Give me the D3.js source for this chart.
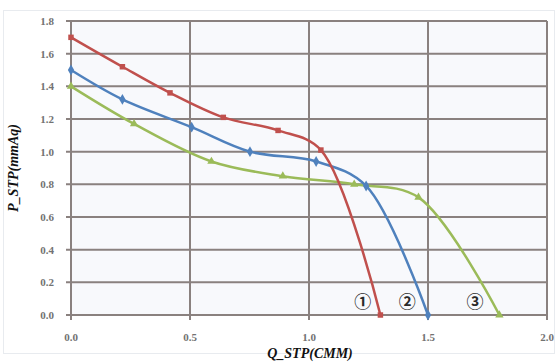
<!DOCTYPE html>
<html><head><meta charset="utf-8">
<script src="https://cdn.jsdelivr.net/npm/d3@7"></script>
<style>body{margin:0;background:#fff}svg{display:block}</style>
</head><body>
<svg id="c" width="559" height="363"></svg>
<script>
const xTicks = [0.0, 0.5, 1.0, 1.5, 2.0];
const yTicks = [0.0, 0.2, 0.4, 0.6, 0.8, 1.0, 1.2, 1.4, 1.6, 1.8];
const seriesNames = ["①", "②", "③"];
const redQ = [0, 0.216, 0.416, 0.64, 0.87, 1.05, 1.30];
const redP = [1.70, 1.52, 1.36, 1.21, 1.13, 1.01, 0.0];
const blueQ = [0, 0.216, 0.507, 0.752, 1.03, 1.24, 1.50];
const blueP = [1.50, 1.32, 1.15, 1.00, 0.94, 0.79, 0.0];
const greenQ = [0, 0.265, 0.59, 0.89, 1.19, 1.46, 1.80];
const greenP = [1.40, 1.17, 0.94, 0.85, 0.80, 0.72, 0.0];
const labelPos = [[1.226, 0.078], [1.413, 0.078], [1.697, 0.078]];

const svg = d3.select("#c");
const L = 71, R = 547, T = 21, B = 315;
const x = d3.scaleLinear().domain([0, 2]).range([L, R]);
const y = d3.scaleLinear().domain([0, 1.8]).range([B, T]);

// outer faint frame
svg.append("rect").attr("x", 3.5).attr("y", 10.5).attr("width", 551).attr("height", 343)
  .attr("fill", "#fff").attr("stroke", "#e8ebef").attr("stroke-width", 1);
svg.append("rect").attr("x", L).attr("y", T).attr("width", R - L).attr("height", B - T)
  .attr("fill", "#f8f9fc");

const gridColor = "#8a817f";
// horizontal grid
svg.append("g").selectAll("line").data(yTicks).join("line")
  .attr("x1", L - 5).attr("x2", R).attr("y1", d => y(d)).attr("y2", d => y(d))
  .attr("stroke", gridColor).attr("stroke-width", 2);
// vertical grid
svg.append("g").selectAll("line").data(xTicks).join("line")
  .attr("x1", d => x(d)).attr("x2", d => x(d)).attr("y1", T).attr("y2", B + 5)
  .attr("stroke", gridColor).attr("stroke-width", 2);

// tick labels
const fontSerif = "'Liberation Serif','DejaVu Serif',serif";
svg.append("g").selectAll("text").data(yTicks).join("text")
  .attr("x", 54).attr("y", d => y(d)).attr("dy", "0.35em")
  .attr("text-anchor", "end").attr("font-family", fontSerif).attr("font-size", 11)
  .attr("font-weight", "bold").attr("fill", "#727272").text(d => d.toFixed(1));
svg.append("g").selectAll("text").data(xTicks).join("text")
  .attr("x", d => x(d)).attr("y", 341)
  .attr("text-anchor", "middle").attr("font-family", fontSerif).attr("font-size", 11)
  .attr("font-weight", "bold").attr("fill", "#727272").text(d => d.toFixed(1));

// axis titles
svg.append("text").attr("transform", "translate(18,168) rotate(-90)")
  .attr("text-anchor", "middle").attr("font-family", fontSerif).attr("font-size", 14)
  .attr("font-weight", "bold").attr("font-style", "italic").attr("fill", "#111")
  .text("P_STP(mmAq)");
svg.append("text").attr("x", 310).attr("y", 358)
  .attr("text-anchor", "middle").attr("font-family", fontSerif).attr("font-size", 14)
  .attr("font-weight", "bold").attr("font-style", "italic").attr("fill", "#111")
  .text("Q_STP(CMM)");

const series = [
  {q: redQ, p: redP, color: "#c0504d", sym: d3.symbolSquare, size: 30},
  {q: blueQ, p: blueP, color: "#4f81bd", sym: d3.symbolDiamond, size: 34},
  {q: greenQ, p: greenP, color: "#9bbb59", sym: d3.symbolTriangle, size: 30}
];
const line = d3.line().x(d => x(d[0])).y(d => y(d[1])).curve(d3.curveCatmullRom.alpha(0.5));
[2, 1, 0].forEach(i => {
  const s = series[i];
  const pts = s.q.map((q, k) => [q, s.p[k]]);
  svg.append("path").datum(pts).attr("d", line).attr("fill", "none")
    .attr("stroke", s.color).attr("stroke-width", 2.5).attr("stroke-linejoin", "round");
  svg.append("g").selectAll("path").data(pts).join("path")
    .attr("transform", d => `translate(${x(d[0])},${y(d[1])})`)
    .attr("d", d3.symbol().type(s.sym).size(s.size)).attr("fill", s.color);
});

// circled labels
svg.append("g").selectAll("text").data(seriesNames).join("text")
  .attr("x", (d, i) => x(labelPos[i][0])).attr("y", (d, i) => y(labelPos[i][1]))
  .attr("dy", "0.36em").attr("text-anchor", "middle")
  .attr("font-family", "'Noto Sans CJK JP','DejaVu Sans',sans-serif").attr("font-size", 17)
  .attr("font-weight", "bold").attr("fill", "#2a2a2a").text(d => d);
</script>
</body></html>
